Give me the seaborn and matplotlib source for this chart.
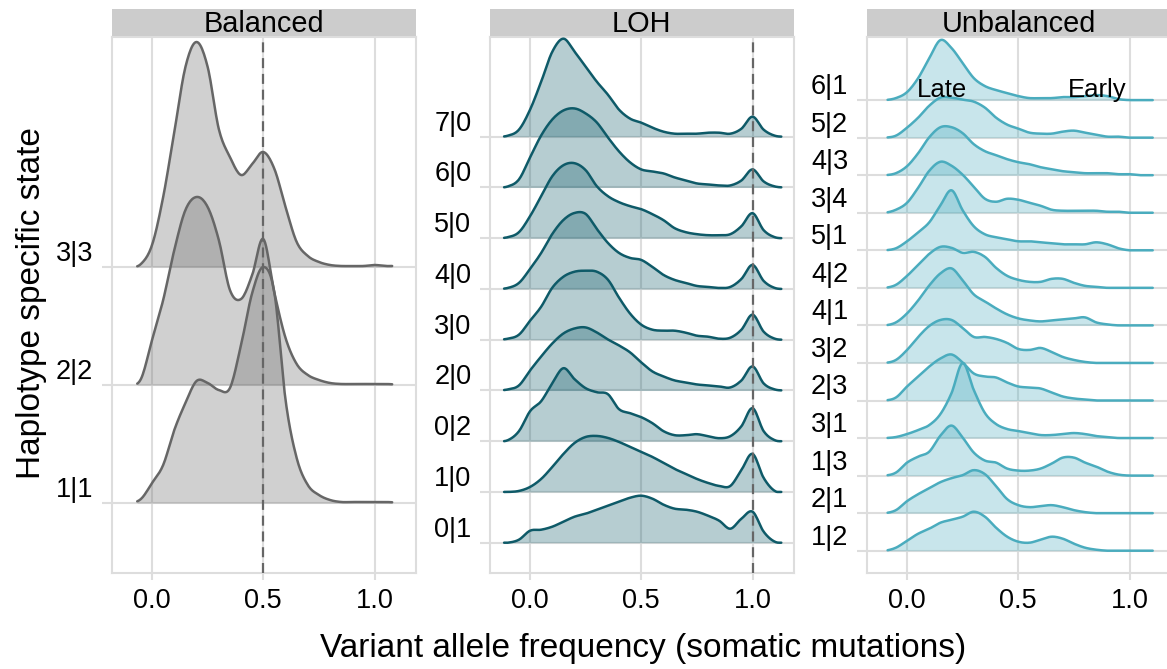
import numpy as np
import pandas as pd
import matplotlib
matplotlib.use("Agg")
import matplotlib.pyplot as plt
import seaborn as sns

# ---------------- data (density heights) ----------------
VAF = [-0.15, -0.10, -0.05, 0.00, 0.05, 0.10, 0.15, 0.20, 0.25, 0.30, 0.35, 0.40,
       0.45, 0.50, 0.55, 0.60, 0.65, 0.70, 0.75, 0.80, 0.85, 0.90, 0.95, 1.00,
       1.05, 1.10, 1.15]

BAL_STATES = ["1|1", "2|2", "3|3"]
BAL_11 = [0, 0, 4, 20, 38, 73, 100, 122, 120, 113, 115, 158, 210, 236, 210, 103, 45, 18, 8, 3, 1, 1, 1, 1, 1, 0.5, 0]
BAL_22 = [0, 0, 6, 45, 85, 135, 175, 188, 178, 145, 95, 86, 110, 146, 92, 47, 21, 10, 5, 2, 1, 1, 1, 1, 1, 0.5, 0]
BAL_33 = [0, 0, 3, 22, 70, 135, 200, 225, 200, 138, 110, 92, 103, 115, 98, 60, 25, 11, 5, 2, 1, 1, 1, 2, 1, 1, 0]

LOH_STATES = ["0|1", "1|0", "0|2", "2|0", "3|0", "4|0", "5|0", "6|0", "7|0"]
LOH_01 = [0, 0, 3, 12, 13, 16, 21, 26, 29, 33, 37, 41, 45, 47, 44, 38, 34, 33, 31, 27, 22, 14, 24, 31, 11, 1, 0]
LOH_10 = [0, 0, 1, 5, 13, 25, 38, 49, 55, 56, 54, 50, 45, 40, 35, 29, 23, 18, 13, 9, 6, 6, 22, 38, 14, 1, 0]
LOH_02 = [0, 1, 10, 30, 40, 58, 73, 62, 53, 49, 47, 32, 28, 24, 18, 10, 6, 6, 7, 5, 3, 5, 15, 33, 10, 1, 0]
LOH_20 = [0, 1, 5, 20, 34, 47, 57, 62, 63, 58, 51, 45, 38, 28, 19, 14, 10, 8, 6, 5, 4, 3, 10, 24, 7, 1, 0]
LOH_30 = [0, 1, 5, 19, 33, 52, 63, 68, 69, 68, 60, 42, 26, 15, 10, 9, 9, 7, 4, 3, 1, 2, 10, 25, 8, 1, 0]
LOH_40 = [0, 1, 6, 20, 36, 55, 69, 76, 75, 60, 46, 36, 31, 29, 22, 14, 9, 6, 3, 2, 1, 2, 10, 24, 8, 1, 0]
LOH_50 = [0, 1, 6, 22, 42, 62, 73, 75, 68, 52, 42, 36, 32, 29, 24, 18, 10, 6, 4, 3, 3, 4, 12, 25, 8, 1, 0]
LOH_60 = [0, 1, 8, 30, 52, 68, 77, 79, 74, 65, 50, 36, 25, 18, 16, 14, 10, 7, 4, 3, 2, 2, 7, 18, 6, 1, 0]
LOH_70 = [0, 1, 7, 27, 55, 85, 98, 85, 70, 55, 42, 27, 18, 14, 9, 5, 3, 3, 3, 4, 4, 3, 8, 20, 7, 1, 0]

UNB_STATES = ["1|2", "2|1", "1|3", "3|1", "2|3", "3|2", "4|1", "4|2", "5|1", "3|4", "4|3", "5|2", "6|1"]
UNB_12 = [0, 0, 3, 10, 17, 22, 28, 31, 34, 39, 34, 23, 14, 9, 8, 11, 14, 12, 7, 3, 1, 0, 0, 0, 0, 0, 0]
UNB_21 = [0, 0, 3, 12, 19, 25, 31, 35, 38, 43, 39, 27, 14, 8, 6, 7, 8, 6, 3, 1, 0, 0, 0, 0, 0, 0, 0]
UNB_13 = [0, 0, 3, 13, 19, 24, 40, 50, 38, 23, 15, 13, 7, 5, 5, 7, 12, 18, 18, 13, 9, 4, 1, 0, 0, 0, 0]
UNB_31 = [0, 0, 1, 4, 8, 13, 24, 45, 75, 48, 25, 14, 9, 7, 5, 3, 3, 4, 5, 4, 2, 1, 0, 0, 0, 0, 0]
UNB_23 = [0, 0, 3, 14, 24, 34, 42, 46, 38, 27, 24, 23, 18, 14, 13, 12, 8, 4, 2, 1, 0, 0, 0, 0, 0, 0, 0]
UNB_32 = [0, 0, 3, 13, 26, 37, 43, 43, 35, 26, 26, 24, 20, 14, 13, 15, 11, 6, 3, 1, 0, 0, 0, 0, 0, 0, 0]
UNB_41 = [0, 0, 3, 12, 25, 40, 52, 57, 45, 31, 24, 17, 11, 7, 5, 4, 5, 6, 7, 8, 3, 1, 0, 0, 0, 0, 0]
UNB_42 = [0, 0, 3, 12, 23, 34, 41, 40, 35, 36, 31, 20, 12, 8, 6, 6, 9, 9, 5, 2, 1, 0, 0, 0, 0, 0, 0]
UNB_51 = [0, 0, 2, 9, 18, 28, 45, 60, 40, 24, 16, 13, 11, 9, 9, 8, 7, 6, 6, 6, 8, 6, 2, 0, 0, 0, 0]
UNB_34 = [0, 0, 3, 10, 25, 42, 51, 47, 38, 26, 14, 11, 14, 13, 10, 7, 3, 2, 2, 2, 2, 1, 1, 0, 0, 0, 0]
UNB_43 = [0, 0, 2, 9, 22, 38, 48, 48, 42, 31, 24, 20, 16, 13, 11, 8, 6, 4, 3, 2, 2, 2, 1, 1, 0, 0, 0]
UNB_52 = [0, 0, 2, 10, 20, 32, 40, 40, 38, 36, 30, 20, 13, 9, 5, 4, 4, 6, 7, 5, 3, 1, 1, 0, 0, 0, 0]
UNB_61 = [0, 0, 2, 8, 22, 42, 60, 52, 37, 22, 14, 10, 7, 4, 2, 2, 2, 3, 3, 4, 5, 4, 1, 0, 0, 0, 0]

X_TICKS = [0.0, 0.5, 1.0]
X_TICK_LABELS = ["0.0", "0.5", "1.0"]

# ---------------- style ----------------
sns.set_theme(style="white")
plt.rcParams["font.family"] = ["Liberation Sans", "DejaVu Sans"]
plt.rcParams["text.color"] = "black"
plt.rcParams["axes.labelcolor"] = "black"
plt.rcParams["xtick.color"] = "black"
plt.rcParams["ytick.color"] = "black"

W, H = 1167, 669
fig = plt.figure(figsize=(W / 100, H / 100), dpi=100)

GRID_C = "#dddddd"
PANEL_TOP, PANEL_BOT, STRIP_TOP = 37, 573, 9
XLIM = (-0.18, 1.185)


def rect(x0, y0, x1, y1):
    return [x0 / W, 1 - y1 / H, (x1 - x0) / W, (y1 - y0) / H]


def catmull(x, y, n=12):
    x = np.asarray(x, float)
    y = np.asarray(y, float)
    yp = np.concatenate([[y[0]], y, [y[-1]]])
    xs, ys = [], []
    t = np.linspace(0, 1, n, endpoint=False)
    for i in range(len(x) - 1):
        p0, p1, p2, p3 = yp[i], yp[i + 1], yp[i + 2], yp[i + 3]
        ys.append(0.5 * (2 * p1 + (-p0 + p2) * t + (2 * p0 - 5 * p1 + 4 * p2 - p3) * t ** 2
                         + (-p0 + 3 * p1 - 3 * p2 + p3) * t ** 3))
        xs.append(x[i] + (x[i + 1] - x[i]) * t)
    xs.append([x[-1]])
    ys.append([y[-1]])
    return np.concatenate(xs), np.clip(np.concatenate(ys), 0, None)


panels = [
    dict(title="Balanced", states=BAL_STATES, series=[BAL_11, BAL_22, BAL_33],
         color="#666666", spacing=118.0, bottom=70.0, rng=(-0.07, 1.08), dash=0.5, x0=112),
    dict(title="LOH", states=LOH_STATES,
         series=[LOH_01, LOH_10, LOH_02, LOH_20, LOH_30, LOH_40, LOH_50, LOH_60, LOH_70],
         color="#0e5a68", spacing=50.75, bottom=30.3, rng=(-0.12, 1.13), dash=1.0, x0=490),
    dict(title="Unbalanced", states=UNB_STATES,
         series=[UNB_12, UNB_21, UNB_13, UNB_31, UNB_23, UNB_32, UNB_41, UNB_42, UNB_51,
                 UNB_34, UNB_43, UNB_52, UNB_61],
         color="#4aacbe", spacing=37.55, bottom=22.3, rng=(-0.09, 1.105), dash=None, x0=867),
]

PX_PER_UNIT = 222.5
for p in panels:
    x0 = p["x0"]
    x1 = x0 + (XLIM[1] - XLIM[0]) * PX_PER_UNIT
    ax = fig.add_axes(rect(x0, PANEL_TOP, x1, PANEL_BOT))
    ax.set_facecolor("white")
    ax.set_xlim(*XLIM)
    ax.set_ylim(-p["bottom"], (PANEL_BOT - PANEL_TOP) - p["bottom"])

    for xv in X_TICKS:
        ax.axvline(xv, color=GRID_C, lw=1.5, zorder=0)
    bases = [i * p["spacing"] for i in range(len(p["states"]))]
    for b in bases:
        ax.axhline(b, color=GRID_C, lw=1.5, zorder=0)

    n = len(p["states"])
    for i in range(n - 1, -1, -1):
        xs, hs = catmull(VAF, p["series"][i])
        lo, hi = p["rng"]
        m = (xs >= lo) & (xs <= hi)
        xs, hs = xs[m], hs[m]
        b = bases[i]
        z = 2 + (n - i) * 2
        ax.fill_between(xs, b, b + hs, color=p["color"], alpha=0.3, lw=0, zorder=z)
        df = pd.DataFrame({"vaf": xs, "y": b + hs})
        sns.lineplot(data=df, x="vaf", y="y", ax=ax, color=p["color"], lw=1.8,
                     estimator=None, sort=False, zorder=z + 1)

    if p["dash"] is not None:
        ax.axvline(p["dash"], color="#666666", lw=1.6, dashes=(4.5, 2.6), zorder=100)

    ax.set_xlabel("")
    ax.set_ylabel("")
    ax.set_xticks(X_TICKS)
    ax.set_xticklabels(X_TICK_LABELS)
    ax.set_yticks(bases)
    ax.set_yticklabels(p["states"], va="bottom")
    ax.tick_params(axis="both", which="both", color=GRID_C, width=1.5, labelcolor="black",
                   labelsize=19.5)
    ax.tick_params(axis="y", length=7, pad=6.5, left=True)
    ax.tick_params(axis="x", length=5, pad=6, bottom=True)
    for s in ax.spines.values():
        s.set_visible(True)
        s.set_color(GRID_C)
        s.set_linewidth(1.5)

    if p["title"] == "Unbalanced":
        top = (n - 1) * p["spacing"]
        ax.text(0.157, top + 10, "Late", fontsize=18.5, color="black",
                ha="center", va="center", zorder=200)
        ax.text(0.856, top + 10, "Early", fontsize=18.5, color="black",
                ha="center", va="center", zorder=200)

    sax = fig.add_axes(rect(x0, STRIP_TOP, x1, PANEL_TOP - 1))
    sax.set_facecolor("#cccccc")
    sax.set_xticks([])
    sax.set_yticks([])
    for s in sax.spines.values():
        s.set_visible(False)
    sax.text(0.5, 0.45, p["title"], transform=sax.transAxes, ha="center", va="center",
             fontsize=20.8, color="black")

fig.text(643 / W, 1 - 648 / H, "Variant allele frequency (somatic mutations)",
         ha="center", va="center", fontsize=24, color="black")
fig.text(32 / W, 1 - 303 / H, "Haplotype specific state", ha="center", va="center",
         rotation=90, fontsize=24, color="black")

fig.savefig("out.png", dpi=100)
